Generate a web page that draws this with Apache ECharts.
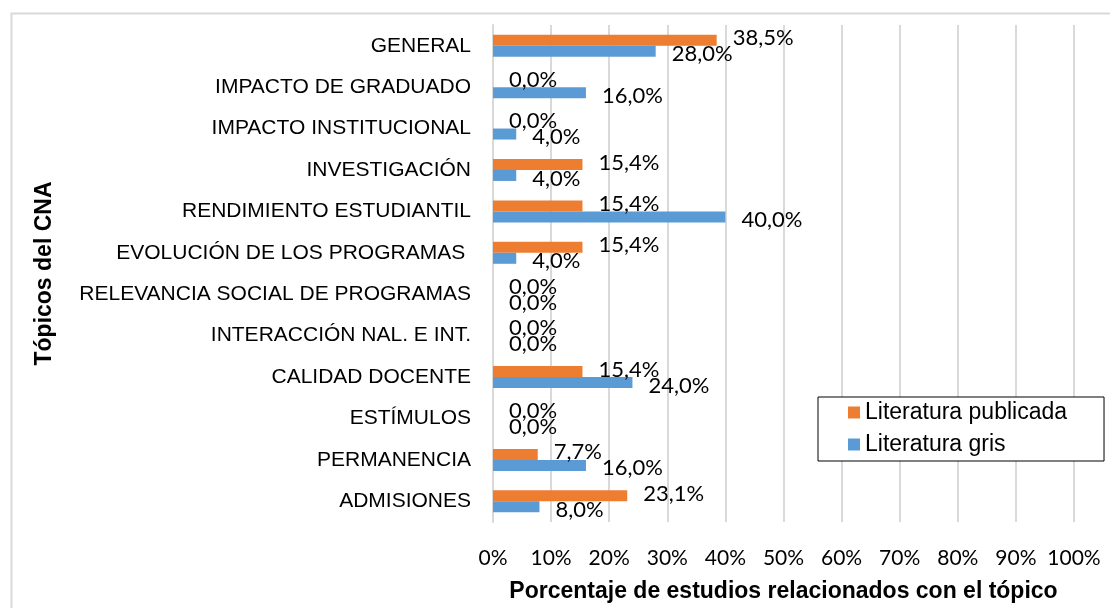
<!DOCTYPE html>
<html>
<head>
<meta charset="utf-8">
<script src="https://cdn.jsdelivr.net/npm/echarts@6/dist/echarts.min.js"></script>
<style>
html,body{margin:0;padding:0;background:#fff;}
#chart{width:1110px;height:608px;}
</style>
</head>
<body>
<div id="chart"></div>
<script>
const categories = [
  'GENERAL',
  'IMPACTO DE GRADUADO',
  'IMPACTO INSTITUCIONAL',
  'INVESTIGACIÓN',
  'RENDIMIENTO ESTUDIANTIL',
  'EVOLUCIÓN DE LOS PROGRAMAS ',
  'RELEVANCIA SOCIAL DE PROGRAMAS',
  'INTERACCIÓN NAL. E INT.',
  'CALIDAD DOCENTE',
  'ESTÍMULOS',
  'PERMANENCIA',
  'ADMISIONES'
];
const seriesNames = ['Literatura publicada', 'Literatura gris'];
const publicada = [38.5, 0, 0, 15.4, 15.4, 15.4, 0, 0, 15.4, 0, 7.7, 23.1];
const gris = [28.0, 16.0, 4.0, 4.0, 40.0, 4.0, 0, 0, 24.0, 0, 16.0, 8.0];
const xTicks = [0, 10, 20, 30, 40, 50, 60, 70, 80, 90, 100];
const xTitle = 'Porcentaje de estudios relacionados con el tópico';
const yTitle = 'Tópicos del CNA';

const fmt = v => v.toFixed(1).replace('.', ',') + '%';
const labelFont = { fontFamily: 'Lato', fontSize: 22, color: '#000' };

const chart = echarts.init(document.getElementById('chart'), null, { renderer: 'canvas' });
chart.setOption({
  animation: false,
  backgroundColor: '#fff',
  graphic: [{
    type: 'rect', left: 9, top: 11, silent: true,
    shape: { width: 1200, height: 700 },
    style: { fill: 'none', stroke: '#d9d9d9', lineWidth: 2 }
  }],
  grid: { left: 493, right: 36, top: 25, bottom: 83, containLabel: false },
  legend: {
    orient: 'vertical', left: 818, top: 397,
    data: seriesNames,
    itemWidth: 12, itemHeight: 12, itemGap: 9,
    icon: 'rect',
    padding: [4, 37, 5, 30],
    borderColor: '#000', borderWidth: 1, backgroundColor: '#fff',
    textStyle: { fontFamily: 'Liberation Sans', fontSize: 23, color: '#000' }
  },
  xAxis: {
    type: 'value', min: 0, max: 100, interval: 10,
    axisLine: { show: false }, axisTick: { show: false },
    splitLine: { show: true, lineStyle: { color: '#d9d9d9', width: 2 } },
    axisLabel: { margin: 26, fontFamily: 'Lato', fontSize: 21, color: '#000',
      formatter: v => xTicks.includes(v) ? v + '%' : '' },
    name: xTitle, nameLocation: 'middle', nameGap: 58,
    nameTextStyle: { fontFamily: 'Liberation Sans', fontWeight: 'bold', fontSize: 23, color: '#000' }
  },
  yAxis: {
    type: 'category', data: categories, inverse: true,
    axisLine: { show: true, lineStyle: { color: '#d9d9d9', width: 2 } },
    axisTick: { show: false },
    axisLabel: { margin: 22, fontFamily: 'Liberation Sans', fontSize: 21, color: '#000' },
    name: yTitle, nameLocation: 'middle', nameRotate: 90, nameGap: 437,
    nameTextStyle: { fontFamily: 'Liberation Sans', fontWeight: 'bold', fontSize: 23, color: '#000' }
  },
  series: [
    {
      name: seriesNames[0], type: 'bar', data: publicada,
      barWidth: 11, barGap: '0%',
      itemStyle: { color: '#ED7D31' },
      label: { show: true, position: 'right', distance: 16, offset: [0, -2],
        formatter: p => fmt(p.value), ...labelFont }
    },
    {
      name: seriesNames[1], type: 'bar', data: gris,
      barWidth: 11, barGap: '0%',
      itemStyle: { color: '#5B9BD5' },
      label: { show: true, position: 'right', distance: 16, offset: [0, 3],
        formatter: p => fmt(p.value), ...labelFont }
    }
  ]
});
</script>
</body>
</html>
